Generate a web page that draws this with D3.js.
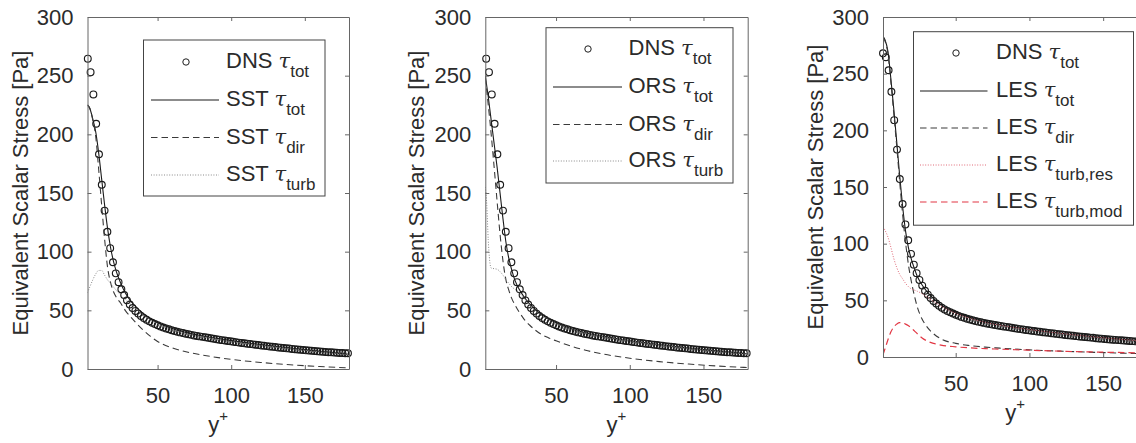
<!DOCTYPE html>
<html><head><meta charset="utf-8">
<script src="https://cdn.jsdelivr.net/npm/d3@7"></script>
<style>
body{margin:0;background:#fff}
svg{display:block}
text{font-family:"Liberation Sans",Arial,sans-serif;fill:#2b2b2b}
</style></head>
<body><svg id="c" width="1136" height="443"></svg>
<script>
// ---------- DATA ----------
const dnsYp = [0.7,2.6,4.5,6.4,8.3,10.2,12.1,14.0,15.9,17.8,19.7,21.6,23.5,25.4,27.3,29.2,31.1,33.0,34.9,36.8,38.7,40.6,42.5,44.4,46.3,48.2,50.1,52.0,53.9,55.8,57.7,59.6,61.5,63.4,65.3,67.2,69.1,71.0,72.9,74.8,76.7,78.6,80.5,82.4,84.3,86.2,88.1,90.0,91.9,93.8,95.7,97.6,99.5,101.4,103.3,105.2,107.1,109.0,110.9,112.8,114.7,116.6,118.5,120.4,122.3,124.2,126.1,128.0,129.9,131.8,133.7,135.6,137.5,139.4,141.3,143.2,145.1,147.0,148.9,150.8,152.7,154.6,156.5,158.4,160.3,162.2,164.1,166.0,167.9,169.8,171.7,173.6,175.5,177.4,179.3];
const dnsTau = [268,264.5,253,234,209,183,157,135,117,103,91,81.5,74,68,63,58.5,55,52,49.5,47.2,45.2,43.5,42,40.6,39.4,38.3,37.3,36.3,35.4,34.6,33.8,33.1,32.4,31.8,31.2,30.6,30.1,29.6,29.1,28.6,28.2,27.8,27.4,27.0,26.6,26.2,25.8,25.4,25.0,24.6,24.3,23.9,23.6,23.2,22.9,22.5,22.2,21.9,21.6,21.3,21.0,20.7,20.4,20.1,19.8,19.5,19.2,18.9,18.7,18.4,18.1,17.9,17.6,17.4,17.1,16.9,16.6,16.4,16.2,15.9,15.7,15.5,15.3,15.1,14.9,14.7,14.5,14.3,14.2,14.0,13.8,13.7,13.6,13.5,13.4];

const sstYp   = [2.4,4,6,8,10,12,14,16,18,20,22,25,28,32,36,40,45,50,60,70,80,100,120,140,160,180];
const sstTot  = [225,222,213,202,184,162,140,120,104,92,83,73,65,57.5,52,47.5,43,39.5,34.5,31,28.3,24.2,20.8,17.8,15,12.5];
const sstDir  = [225,222,212,198,170,140,111,87,74,66,61,56,50,44,38.5,33.5,28,23.5,18,14.5,12,8.2,5.6,3.6,2.1,1];
const sstTurb = [65,70,76,81,84,84,80,76,73,70,67,63,59.5,55,50.5,46.5,42,38.5,33.5,30,27.5,23.5,20.2,17.3,14.6,12.2];

const orsYp   = [2.0,3,4,5,6,8,10,12,14,16,18,20,22,25,28,32,36,40,45,50,60,70,80,100,120,140,160,180];
const orsTot  = [250,241,232,222,212,192,172,150,128,108,94,84,76,68,62,55.5,50.5,46.5,42.5,39.2,34.3,30.8,28.2,24.2,20.8,17.8,15.2,12.8];
const orsDir  = [248,237,225,213,200,172,143,115,92,76,67,60,55,48.5,43,37.5,33,29.5,26.5,24,19.5,16,13.2,9.2,6.3,4.2,2.5,1.2];
const orsTurb = [155,140,110,92,86,85.5,85,83,80,76,73,70,68,65,60.5,55,50,46,42,38.8,34,30.5,28,24,20.6,17.6,15,12.6];

const lesYp      = [0.7,2,4,6,8,10,12,14,16,18,20,22,24,27,30,35,40,50,60,70,80,100,120,140,160,180];
const lesTot     = [283,280,270,246,219,190,160,133,111,96,86,78,71,64,58.5,51.5,46,39,34.5,31,28.5,24.5,21.2,18.4,16,14];
const lesDir     = [282,279,268,243,215,186,155,126,101,81,66,54,44,34,27.5,20.5,16,12,10,8.7,7.8,6.3,5.2,4.3,3.5,2.8];
const lesTurbRes = [115,112,106,97,87,79,73,69,65,62,60,59,58,56,53.5,49,45,38.5,34,30.5,28,24.2,21,18.2,15.8,13.8];
const lesTurbMod = [2,7,15,22,26.5,29,30.3,30,29,27.5,25.5,23,20.5,17,14.5,12,10.5,9,8,7.4,6.9,6,5.2,4.5,4,3.5];

const yTicks = [0,50,100,150,200,250,300];
const xTicks = [50,100,150];
const yLabel = "Equivalent Scalar Stress [Pa]";

// ---------- DRAW ----------
const svg = d3.select("#c");
const AX = "#666", LEG = "#444";
const styles = {
  solid:{stroke:"#1a1a1a",dash:null,w:1.1},
  dashed:{stroke:"#3a3a3a",dash:"6.5,4",w:1.1},
  dotted:{stroke:"#8a8a8a",dash:"1,1.6",w:1},
  redDot:{stroke:"#e06a78",dash:"1,1.6",w:1},
  redDash:{stroke:"#e23744",dash:"6.5,4",w:1.2}
};

const panels = [
 {xr:[87.5,349], xd:[2.4,180], yr:[369,17], ylx:28,
  leg:{x:143.5,y:40,w:181.5,h:156,lx:[151,219],mx:186,tx:226,rows:[62,100,137.5,175]},
  series:[{yp:sstYp,v:sstTot,s:"solid",name:"SST",sub:"tot"},
          {yp:sstYp,v:sstDir,s:"dashed",name:"SST",sub:"dir"},
          {yp:sstYp,v:sstTurb,s:"dotted",name:"SST",sub:"turb"}]},
 {xr:[485.3,747.7], xd:[2.0,180], yr:[369,17], ylx:424,
  leg:{x:546,y:27.7,w:187,h:155.3,lx:[553,622],mx:588,tx:628.5,rows:[49,87,124.5,161]},
  series:[{yp:orsYp,v:orsTot,s:"solid",name:"ORS",sub:"tot"},
          {yp:orsYp,v:orsDir,s:"dashed",name:"ORS",sub:"dir"},
          {yp:orsYp,v:orsTurb,s:"dotted",name:"ORS",sub:"turb"}]},
 {xr:[883,1147.4], xd:[0.7,180], yr:[357,17], ylx:823,
  leg:{x:913.5,y:31.7,w:220,h:193.5,lx:[920,987.5],mx:956,tx:996,rows:[53,91,128,165,202]},
  series:[{yp:lesYp,v:lesTot,s:"solid",name:"LES",sub:"tot"},
          {yp:lesYp,v:lesDir,s:"dashed",name:"LES",sub:"dir"},
          {yp:lesYp,v:lesTurbRes,s:"redDot",name:"LES",sub:"turb,res"},
          {yp:lesYp,v:lesTurbMod,s:"redDash",name:"LES",sub:"turb,mod"}]}
];

panels.forEach((p,pi)=>{
  const x = d3.scaleLinear().domain(p.xd).range(p.xr);
  const y = d3.scaleLinear().domain([0,300]).range(p.yr);
  const g = svg.append("g");
  const cid = "clip"+pi;
  svg.append("clipPath").attr("id",cid).append("rect")
    .attr("x",p.xr[0]).attr("y",p.yr[1]).attr("width",p.xr[1]-p.xr[0]).attr("height",p.yr[0]-p.yr[1]);

  // DNS circles
  const dns = dnsYp.map((d,i)=>({x:d,v:dnsTau[i]})).filter(d=>d.x>=p.xd[0]-0.05);
  g.append("g").selectAll("circle").data(dns).join("circle")
    .attr("cx",d=>x(d.x)).attr("cy",d=>y(d.v)).attr("r",3.4)
    .attr("fill","none").attr("stroke","#1a1a1a").attr("stroke-width",1.15);

  // model lines
  const line = d3.line().x(d=>x(d[0])).y(d=>y(d[1])).curve(d3.curveMonotoneX);
  p.series.forEach(s=>{
    const st = styles[s.s];
    g.append("path").attr("clip-path",`url(#${cid})`)
      .attr("d",line(s.yp.map((d,i)=>[d,s.v[i]])))
      .attr("fill","none").attr("stroke",st.stroke).attr("stroke-width",st.w)
      .attr("stroke-dasharray",st.dash);
  });

  // axes (box, inward ticks)
  const ax = svg.append("g");
  const tl = 4;
  const axL = d3.axisLeft(y).tickValues(yTicks).tickSizeInner(-tl).tickSizeOuter(0).tickPadding(10+tl);
  const axB = d3.axisBottom(x).tickValues(xTicks).tickSizeInner(-tl).tickSizeOuter(0).tickPadding(14+tl);
  const axT = d3.axisTop(x).tickValues(xTicks).tickSizeInner(-tl).tickSizeOuter(0).tickFormat("");
  const axR = d3.axisRight(y).tickValues(yTicks).tickSizeInner(-tl).tickSizeOuter(0).tickFormat("");
  const gl = ax.append("g").attr("transform",`translate(${p.xr[0]},0)`).call(axL);
  const gb = ax.append("g").attr("transform",`translate(0,${p.yr[0]})`).call(axB);
  const gt = ax.append("g").attr("transform",`translate(0,${p.yr[1]})`).call(axT);
  const gr = ax.append("g").attr("transform",`translate(${p.xr[1]},0)`).call(axR);
  [gl,gb,gt,gr].forEach(a=>{
    a.select(".domain").attr("stroke",AX).attr("stroke-width",1);
    a.selectAll(".tick line").attr("stroke",AX);
    a.selectAll("text").attr("font-size",22).attr("fill","#2b2b2b")
      .attr("font-family",'"Liberation Sans",Arial,sans-serif');
  });
  gb.selectAll("text").attr("dy","0.71em");

  // axis labels
  svg.append("text").attr("transform",`translate(${p.ylx},${(p.yr[0]+p.yr[1])/2}) rotate(-90)`)
    .attr("text-anchor","middle").attr("font-size",22).text(yLabel);
  const xl = svg.append("text").attr("x",(p.xr[0]+p.xr[1])/2).attr("y",p.yr[0]+63)
    .attr("text-anchor","middle").attr("font-size",22);
  xl.append("tspan").text("y");
  xl.append("tspan").attr("font-size",15).attr("dy",-11).text("+");

  // legend
  const L = p.leg;
  const lg = svg.append("g");
  lg.append("rect").attr("x",L.x).attr("y",L.y).attr("width",L.w).attr("height",L.h)
    .attr("fill","#fff").attr("stroke",LEG).attr("stroke-width",1);
  const entries = [{name:"DNS",sub:"tot",marker:true}].concat(p.series);
  entries.forEach((e,i)=>{
    const ry = L.rows[i];
    if(e.marker){
      lg.append("circle").attr("cx",L.mx).attr("cy",ry).attr("r",3.2)
        .attr("fill","none").attr("stroke","#1e1e1e").attr("stroke-width",1);
    } else {
      const st = styles[e.s];
      lg.append("line").attr("x1",L.lx[0]).attr("x2",L.lx[1]).attr("y1",ry).attr("y2",ry)
        .attr("stroke",st.stroke).attr("stroke-width",st.w).attr("stroke-dasharray",st.dash);
    }
    const t = lg.append("text").attr("x",L.tx).attr("y",ry+6).attr("font-size",22);
    t.append("tspan").text(e.name+" ");
    t.append("tspan").attr("font-style","italic").attr("font-family","'DejaVu Serif',serif").attr("font-size",21).text("τ");
    t.append("tspan").attr("font-size",17).attr("dy",9).text(e.sub);
  });
});
</script>
</body></html>
